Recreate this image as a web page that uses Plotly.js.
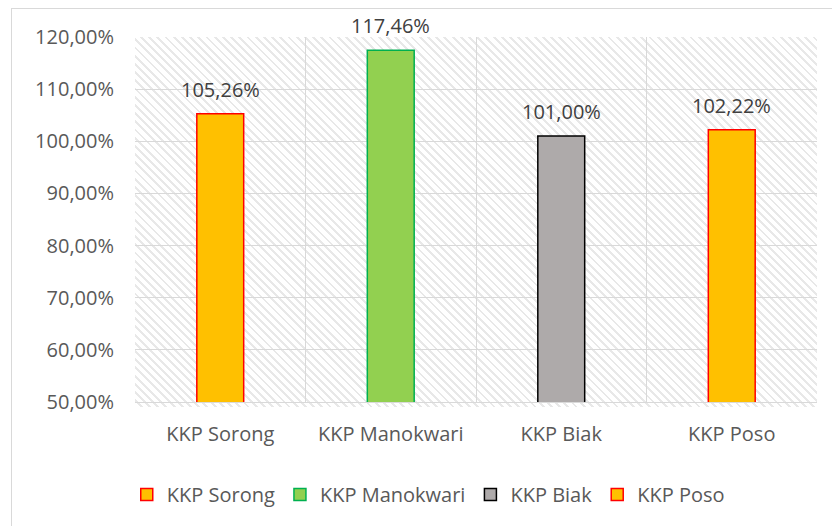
<!DOCTYPE html>
<html>
<head>
<meta charset="utf-8">
<script src="https://cdn.plot.ly/plotly-3.0.1.min.js"></script>
<style>
  body { margin: 0; background: #fff; }
  #wrap { position: relative; width: 832px; height: 526px; overflow: hidden; }
  #hatch {
    position: absolute; left: 135px; top: 37px; width: 682px; height: 370px;
    background: repeating-linear-gradient(45deg, #fff 0px, #fff 3.8px, #e8e8e8 3.8px, #e8e8e8 5.8px);
  }
  #frame {
    position: absolute; left: 11px; top: 8px; width: 840px; height: 540px;
    border: 1px solid #d9d9d9; pointer-events: none;
  }
  #chart { position: absolute; left: 0; top: 0; width: 832px; height: 526px; }
</style>
</head>
<body>
<div id="wrap">
  <div id="hatch"></div>
  <div id="frame"></div>
  <div id="chart"></div>
</div>
<script>
// data
const categories = ["KKP Sorong", "KKP Manokwari", "KKP Biak", "KKP Poso"];
const values = [105.26, 117.46, 101.0, 102.22];
const fillColors = ["#FFC000", "#92D050", "#AEAAAA", "#FFC000"];
const lineColors = ["#FF0000", "#00B050", "#000000", "#FF0000"];

const font = "'Open Sans', 'Liberation Sans', sans-serif";
const textColor = "#595959";
const fontSize = 20;

const traces = categories.map((cat, i) => ({
  type: "bar",
  name: cat,
  x: [cat],
  y: [values[i]],
  width: 0.275,
  marker: { color: fillColors[i], line: { color: lineColors[i], width: 1.5 } },
  hoverinfo: "skip",
}));

// value labels above the bars
const annotations = categories.map((cat, i) => ({
  x: cat,
  y: values[i],
  xref: "x",
  yref: "y",
  text: values[i].toFixed(2).replace(".", ",") + "%",
  showarrow: false,
  yanchor: "bottom",
  yshift: 9,
  font: { family: font, size: fontSize, color: "#404040" },
}));

const layout = {
  width: 832,
  height: 526,
  margin: { l: 135, r: 15, t: 37, b: 119 },
  paper_bgcolor: "rgba(0,0,0,0)",
  plot_bgcolor: "rgba(0,0,0,0)",
  separators: ",.",
  barmode: "overlay",
  font: { family: font, size: fontSize, color: textColor },
  xaxis: {
    type: "category",
    categoryorder: "array",
    categoryarray: categories,
    range: [-0.5, 3.5],
    tickson: "boundaries",
    showgrid: true,
    gridcolor: "#d9d9d9",
    gridwidth: 1,
    ticks: "",
    showline: true,
    linecolor: "#d9d9d9",
    ticklabelstandoff: 14,
    tickfont: { family: font, size: fontSize, color: textColor },
    fixedrange: true,
  },
  yaxis: {
    range: [50, 120],
    dtick: 10,
    tickformat: ".2f",
    ticksuffix: "%",
    showgrid: true,
    gridcolor: "#d9d9d9",
    gridwidth: 1,
    zeroline: false,
    ticks: "",
    ticklabelstandoff: 20,
    tickfont: { family: font, size: fontSize, color: textColor },
    fixedrange: true,
  },
  showlegend: true,
  legend: {
    orientation: "h",
    x: 0.43,
    xanchor: "center",
    y: -0.2,
    yanchor: "top",
    font: { family: font, size: fontSize, color: textColor },
    itemclick: false,
  },
  annotations: annotations,
};

Plotly.newPlot("chart", traces, layout, { staticPlot: true });
</script>
</body>
</html>
